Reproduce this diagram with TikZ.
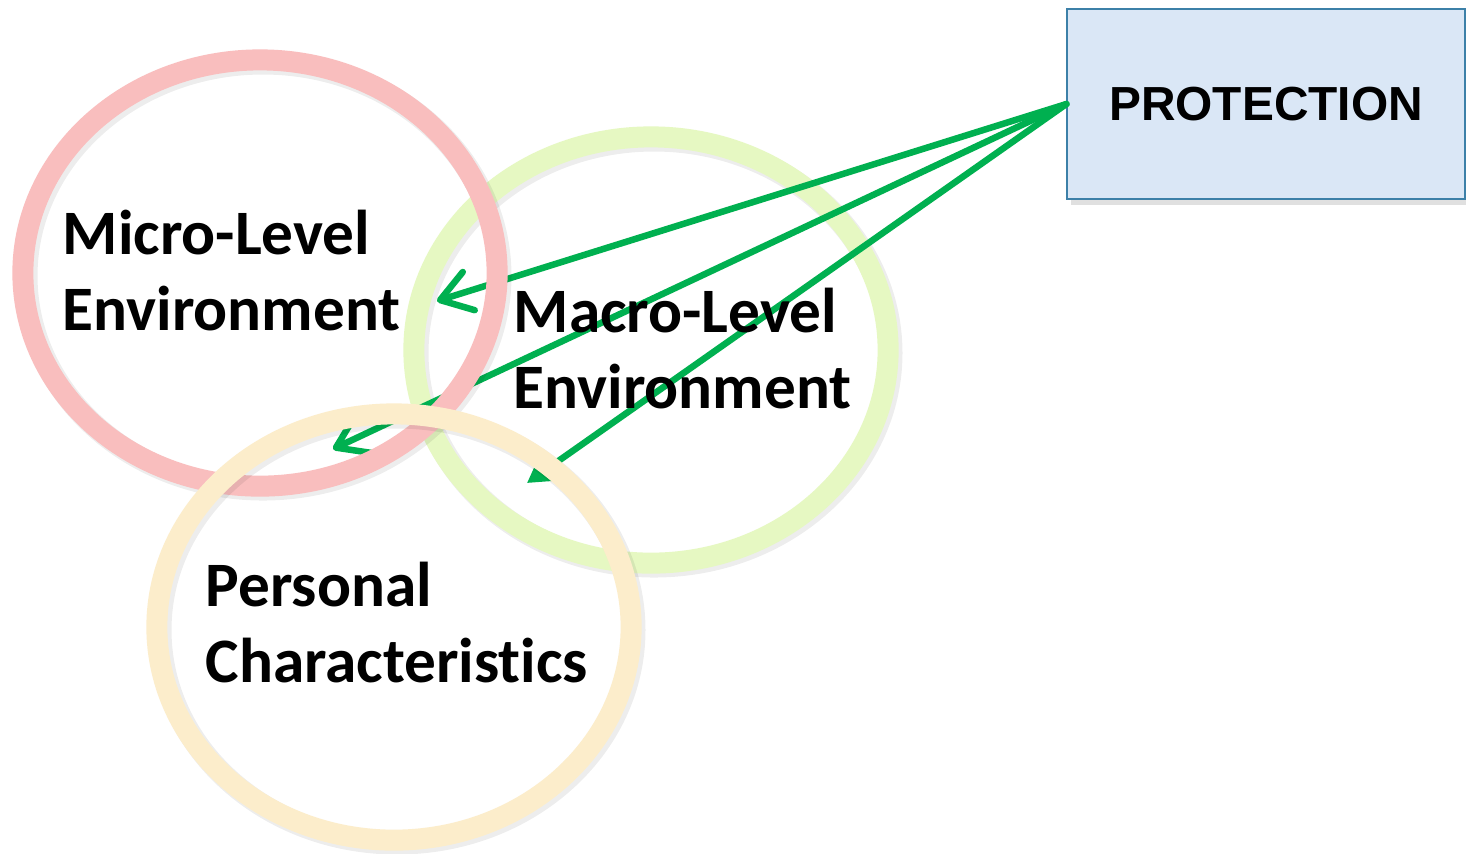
\documentclass[tikz,border=0pt]{standalone}
\usepackage{fontspec}
\setmainfont{Carlito}[Ligatures={NoCommon,TeX}]
\newfontfamily\arialfont{Liberation Sans}
\usetikzlibrary{arrows.meta,shapes.geometric}
\definecolor{ringpink}{HTML}{F9BEBE}
\definecolor{ringgreen}{HTML}{E6F8C2}
\definecolor{ringbeige}{HTML}{FCEDCB}
\definecolor{boxfill}{HTML}{DAE7F6}
\definecolor{boxline}{HTML}{3C80A8}
\definecolor{arrowgreen}{HTML}{00B050}
\begin{document}
\begin{tikzpicture}[x=0.01cm,y=-0.01cm,
  ring/.style={ellipse, minimum width=4.74cm, minimum height=4.26cm, inner sep=0pt, line width=0.21cm},
  ringshadow/.style={line width=0.23cm, draw=black, opacity=0.07},
  lbl/.style={font=\bfseries\fontsize{18}{21.5}\selectfont, align=left, inner sep=0pt, anchor=base west},
  prot/.style={draw=boxline, fill=boxfill, line width=0.02cm, inner sep=0pt, minimum width=3.97cm, minimum height=1.90cm, font=\arialfont\bfseries\fontsize{13.6}{16}\selectfont},
  conn/.style={draw=arrowgreen, line width=0.065cm, line cap=round},
  openhead/.style={-{Straight Barb[length=0.3cm, width=0.4cm, line cap=round, line join=round]}},
  fullhead/.style={-{Triangle[length=0.32cm, width=0.36cm]}}]
\useasboundingbox (0,0) rectangle (1466,853);
\fill[white] (0,0) rectangle (1466,853);
% box shadow
\fill[black, opacity=0.12] (1071,12) rectangle (1470,205);
\node[prot] (prot) at (1266,104) {PROTECTION};
% green ring (bottom)
\draw[ringshadow] (654,353) ellipse [x radius=237, y radius=213];
\node[ring, draw=ringgreen] (macro) at (651,350) {};
% arrows
\coordinate (t1) at (437,301);
\coordinate (t2) at (333,449);
\coordinate (t3) at (527,483);
\draw[conn, openhead] (prot.west) -- (t1);
\draw[conn, openhead] (prot.west) -- (t2);
\draw[conn, fullhead] (prot.west) -- (t3);
% pink ring
\draw[ringshadow] (263,276) ellipse [x radius=237, y radius=213];
\node[ring, draw=ringpink] (micro) at (260,273) {};
% beige ring
\draw[ringshadow] (397,630) ellipse [x radius=237, y radius=213];
\node[ring, draw=ringbeige] (personal) at (394,627) {};
% labels
\node[lbl] (microtxt) at (62,330) {Micro-Level\\Environment};
\node[lbl] (macrotxt) at (513,408) {Macro-Level\\Environment};
\node[lbl] (perstxt) at (205,682) {Personal\\Characteristics};
\end{tikzpicture}
\end{document}
